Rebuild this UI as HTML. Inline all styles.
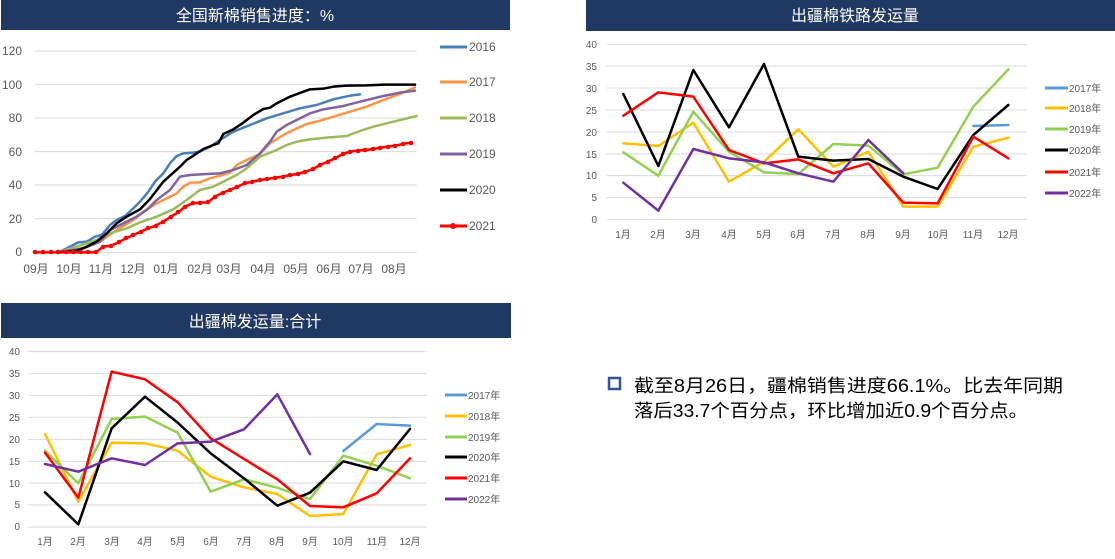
<!DOCTYPE html>
<html><head><meta charset="utf-8"><style>
body{margin:0;background:#fff;}
svg text{font-family:"Liberation Sans","Noto Sans CJK SC",sans-serif;}
.ax{font-size:11px;fill:#595959;}
.lg{font-size:12px;fill:#595959;}
.t{font-size:16px;fill:#fff;}
polyline{fill:none;stroke-linejoin:round;stroke-linecap:round;}
</style></head><body>
<svg width="1115" height="554" viewBox="0 0 1115 554" xmlns="http://www.w3.org/2000/svg">
<!-- Chart 1 -->
<rect x="1" y="0" width="509" height="30" fill="#1f3864"/>
<text class="t" x="255" y="21" text-anchor="middle">全国新棉销售进度：%</text>
<g transform="scale(0.33333)" stroke="#d9d9d9" stroke-width="1" vector-effect="non-scaling-stroke">
<line x1="105" x2="1250" y1="153" y2="153" vector-effect="non-scaling-stroke"/>
<line x1="105" x2="1250" y1="253" y2="253" vector-effect="non-scaling-stroke"/>
<line x1="105" x2="1250" y1="354" y2="354" vector-effect="non-scaling-stroke"/>
<line x1="105" x2="1250" y1="455" y2="455" vector-effect="non-scaling-stroke"/>
<line x1="105" x2="1250" y1="555" y2="555" vector-effect="non-scaling-stroke"/>
<line x1="105" x2="1250" y1="656" y2="656" vector-effect="non-scaling-stroke"/>
<line x1="105" x2="1250" y1="757" y2="757" vector-effect="non-scaling-stroke"/>
</g>
<g class="ax" font-size="12">
<text x="22" y="55" text-anchor="end" style="font-size:12px">120</text>
<text x="22" y="89" text-anchor="end" style="font-size:12px">100</text>
<text x="22" y="122" text-anchor="end" style="font-size:12px">80</text>
<text x="22" y="156" text-anchor="end" style="font-size:12px">60</text>
<text x="22" y="189" text-anchor="end" style="font-size:12px">40</text>
<text x="22" y="223" text-anchor="end" style="font-size:12px">20</text>
<text x="22" y="256" text-anchor="end" style="font-size:12px">0</text>
</g>
<g class="ax" text-anchor="middle" style="font-size:12px">
<text x="36" y="273" style="font-size:12px">09月</text><text x="69" y="273" style="font-size:12px">10月</text><text x="101" y="273" style="font-size:12px">11月</text><text x="133" y="273" style="font-size:12px">12月</text><text x="166" y="273" style="font-size:12px">01月</text><text x="200" y="273" style="font-size:12px">02月</text><text x="229" y="273" style="font-size:12px">03月</text><text x="263" y="273" style="font-size:12px">04月</text><text x="296" y="273" style="font-size:12px">05月</text><text x="329" y="273" style="font-size:12px">06月</text><text x="361" y="273" style="font-size:12px">07月</text><text x="394" y="273" style="font-size:12px">08月</text>
</g>
<g transform="scale(0.33333)">
<polyline vector-effect="non-scaling-stroke" stroke="#4a7ebb" stroke-width="2.5" points="175,757 200,745 235,727 260,725 285,710 305,705 330,675 350,660 375,648 400,625 420,605 445,575 465,545 490,520 510,490 530,468 550,460 580,458 600,455 630,440 660,420 700,395 750,375 800,355 850,340 900,325 950,315 1000,298 1050,287 1080,283"/>
<polyline vector-effect="non-scaling-stroke" stroke="#f79646" stroke-width="2.5" points="175,757 250,745 300,725 350,690 400,660 430,635 470,610 500,595 530,580 550,560 570,548 600,547 630,535 660,527 690,518 710,495 740,480 780,462 810,430 850,405 880,390 920,372 960,362 1000,350 1050,335 1100,320 1150,300 1200,282 1245,262"/>
<polyline vector-effect="non-scaling-stroke" stroke="#9bbb59" stroke-width="2.5" points="175,757 230,740 290,720 330,700 380,685 420,667 470,650 520,628 560,600 600,570 640,560 680,540 710,525 740,505 780,470 800,462 830,450 860,435 890,425 930,418 980,413 1040,408 1080,393 1120,380 1180,365 1250,348"/>
<polyline vector-effect="non-scaling-stroke" stroke="#8064a2" stroke-width="2.5" points="175,757 250,745 300,725 330,690 370,670 410,650 440,630 470,600 510,570 540,530 570,525 620,522 660,520 700,510 740,495 780,460 810,425 830,395 860,375 890,360 930,340 970,328 1030,318 1080,305 1150,288 1200,278 1245,272"/>
<polyline vector-effect="non-scaling-stroke" stroke="#000" stroke-width="2.5" points="175,757 230,752 260,740 290,725 320,700 350,670 380,650 420,628 450,597 490,545 520,518 540,500 560,480 580,467 610,447 640,435 655,430 670,402 700,388 730,368 760,345 790,327 810,323 830,310 870,290 910,275 930,268 970,266 1000,260 1040,257 1100,256 1150,254 1245,254"/>
<polyline id="r21" vector-effect="non-scaling-stroke" stroke="#ff0000" stroke-width="2.5" points="105,757 128,757 152,757 175,757 198,757 220,757 243,757 265,757 287,757 310,740 333,737 356,727 378,715 400,705 422,695 445,685 467,677 490,665 512,650 535,637 555,620 578,610 600,608 623,607 645,590 668,578 690,570 712,560 735,550 757,545 780,540 802,537 825,533 848,530 870,525 893,522 915,515 938,508 960,495 983,485 1005,475 1028,462 1050,455 1073,452 1095,450 1118,448 1140,443 1163,440 1185,437 1208,432 1232,428"/>
<polyline vector-effect="non-scaling-stroke" stroke="#ff0000" stroke-width="9" stroke-dasharray="0 23" points="105,757 128,757 152,757 175,757 198,757 220,757 243,757 265,757 287,757 310,740 333,737 356,727 378,715 400,705 422,695 445,685 467,677 490,665 512,650 535,637 555,620 578,610 600,608 623,607 645,590 668,578 690,570 712,560 735,550 757,545 780,540 802,537 825,533 848,530 870,525 893,522 915,515 938,508 960,495 983,485 1005,475 1028,462 1050,455 1073,452 1095,450 1118,448 1140,443 1163,440 1185,437 1208,432 1232,428" style="display:none"/>
</g>
<g fill="#ff0000">
<circle cx="35" cy="252" r="2.3"/><circle cx="43" cy="252" r="2.3"/><circle cx="51" cy="252" r="2.3"/><circle cx="58" cy="252" r="2.3"/><circle cx="66" cy="252" r="2.3"/><circle cx="73" cy="252" r="2.3"/><circle cx="81" cy="252" r="2.3"/><circle cx="88" cy="252" r="2.3"/><circle cx="96" cy="252" r="2.3"/><circle cx="103" cy="247" r="2.3"/><circle cx="111" cy="246" r="2.3"/><circle cx="119" cy="242" r="2.3"/><circle cx="126" cy="238" r="2.3"/><circle cx="133" cy="235" r="2.3"/><circle cx="141" cy="232" r="2.3"/><circle cx="148" cy="228" r="2.3"/><circle cx="156" cy="226" r="2.3"/><circle cx="163" cy="222" r="2.3"/><circle cx="171" cy="217" r="2.3"/><circle cx="178" cy="212" r="2.3"/><circle cx="185" cy="207" r="2.3"/><circle cx="193" cy="203" r="2.3"/><circle cx="200" cy="203" r="2.3"/><circle cx="208" cy="202" r="2.3"/><circle cx="215" cy="197" r="2.3"/><circle cx="223" cy="193" r="2.3"/><circle cx="230" cy="190" r="2.3"/><circle cx="237" cy="187" r="2.3"/><circle cx="245" cy="183" r="2.3"/><circle cx="252" cy="182" r="2.3"/><circle cx="260" cy="180" r="2.3"/><circle cx="267" cy="179" r="2.3"/><circle cx="275" cy="178" r="2.3"/><circle cx="283" cy="177" r="2.3"/><circle cx="290" cy="175" r="2.3"/><circle cx="298" cy="174" r="2.3"/><circle cx="305" cy="172" r="2.3"/><circle cx="313" cy="169" r="2.3"/><circle cx="320" cy="165" r="2.3"/><circle cx="328" cy="162" r="2.3"/><circle cx="335" cy="158" r="2.3"/><circle cx="343" cy="154" r="2.3"/><circle cx="350" cy="152" r="2.3"/><circle cx="358" cy="151" r="2.3"/><circle cx="365" cy="150" r="2.3"/><circle cx="373" cy="149" r="2.3"/><circle cx="380" cy="148" r="2.3"/><circle cx="388" cy="147" r="2.3"/><circle cx="395" cy="146" r="2.3"/><circle cx="403" cy="144" r="2.3"/><circle cx="411" cy="143" r="2.3"/>
</g>
<!-- legend 1 -->
<g stroke-width="3">
<line x1="440" x2="467" y1="47" y2="47" stroke="#4a7ebb"/>
<line x1="440" x2="467" y1="82" y2="82" stroke="#f79646"/>
<line x1="440" x2="467" y1="118" y2="118" stroke="#9bbb59"/>
<line x1="440" x2="467" y1="154" y2="154" stroke="#8064a2"/>
<line x1="440" x2="467" y1="190" y2="190" stroke="#000"/>
<line x1="440" x2="467" y1="226" y2="226" stroke="#ff0000"/>
</g>
<circle cx="453" cy="226" r="3" fill="#ff0000"/>
<g class="lg" style="font-size:12px">
<text x="469" y="51">2016</text><text x="469" y="86">2017</text><text x="469" y="122">2018</text><text x="469" y="158">2019</text><text x="469" y="194">2020</text><text x="469" y="230">2021</text>
</g>

<!-- Chart 2 -->
<rect x="586" y="0" width="529" height="31" fill="#1f3864"/>
<text class="t" x="855" y="21" text-anchor="middle">出疆棉铁路发运量</text>
<g transform="translate(585,0) scale(0.33333)">
<g stroke="#d9d9d9">
<line x1="65" x2="1325" y1="133" y2="133" vector-effect="non-scaling-stroke"/><line x1="65" x2="1325" y1="198" y2="198" vector-effect="non-scaling-stroke"/><line x1="65" x2="1325" y1="264" y2="264" vector-effect="non-scaling-stroke"/><line x1="65" x2="1325" y1="330" y2="330" vector-effect="non-scaling-stroke"/><line x1="65" x2="1325" y1="396" y2="396" vector-effect="non-scaling-stroke"/><line x1="65" x2="1325" y1="462" y2="462" vector-effect="non-scaling-stroke"/><line x1="65" x2="1325" y1="527" y2="527" vector-effect="non-scaling-stroke"/><line x1="65" x2="1325" y1="593" y2="593" vector-effect="non-scaling-stroke"/><line x1="65" x2="1325" y1="659" y2="659" vector-effect="non-scaling-stroke"/>
</g>
<polyline vector-effect="non-scaling-stroke" stroke="#5b9bd5" stroke-width="2.5" points="1165,378 1270,375"/>
<polyline vector-effect="non-scaling-stroke" stroke="#ffc000" stroke-width="2.5" points="115,430 220,438 325,368 432,545 537,485 640,388 745,500 850,455 955,620 1058,620 1165,440 1270,413"/>
<polyline vector-effect="non-scaling-stroke" stroke="#92d050" stroke-width="2.5" points="115,457 220,527 325,335 432,455 537,517 640,522 745,432 850,437 955,523 1058,503 1165,320 1270,208"/>
<polyline vector-effect="non-scaling-stroke" stroke="#000" stroke-width="2.5" points="115,282 220,498 325,210 432,382 537,192 640,470 745,482 850,477 955,530 1058,567 1165,405 1270,315"/>
<polyline vector-effect="non-scaling-stroke" stroke="#ff0000" stroke-width="2.5" points="115,347 220,277 325,290 432,450 537,490 640,478 745,520 850,490 955,608 1058,610 1165,410 1270,475"/>
<polyline vector-effect="non-scaling-stroke" stroke="#7030a0" stroke-width="2.5" points="115,548 220,632 325,447 432,475 537,487 640,520 745,545 850,420 955,520"/>
</g>
<g class="ax" text-anchor="end" style="font-size:10px">
<text x="597" y="48" style="font-size:10px">40</text><text x="597" y="70" style="font-size:10px">35</text><text x="597" y="92" style="font-size:10px">30</text><text x="597" y="114" style="font-size:10px">25</text><text x="597" y="136" style="font-size:10px">20</text><text x="597" y="158" style="font-size:10px">15</text><text x="597" y="179" style="font-size:10px">10</text><text x="597" y="201" style="font-size:10px">5</text><text x="597" y="223" style="font-size:10px">0</text>
</g>
<g class="ax" text-anchor="middle" style="font-size:10px">
<text x="623" y="238" style="font-size:10px">1月</text><text x="658" y="238" style="font-size:10px">2月</text><text x="693" y="238" style="font-size:10px">3月</text><text x="729" y="238" style="font-size:10px">4月</text><text x="764" y="238" style="font-size:10px">5月</text><text x="798" y="238" style="font-size:10px">6月</text><text x="833" y="238" style="font-size:10px">7月</text><text x="868" y="238" style="font-size:10px">8月</text><text x="903" y="238" style="font-size:10px">9月</text><text x="938" y="238" style="font-size:10px">10月</text><text x="973" y="238" style="font-size:10px">11月</text><text x="1008" y="238" style="font-size:10px">12月</text>
</g>
<g stroke-width="3">
<line x1="1045" x2="1068" y1="88" y2="88" stroke="#5b9bd5"/><line x1="1045" x2="1068" y1="108" y2="108" stroke="#ffc000"/><line x1="1045" x2="1068" y1="129" y2="129" stroke="#92d050"/><line x1="1045" x2="1068" y1="150" y2="150" stroke="#000"/><line x1="1045" x2="1068" y1="172" y2="172" stroke="#ff0000"/><line x1="1045" x2="1068" y1="193" y2="193" stroke="#7030a0"/>
</g>
<g class="lg" style="font-size:10px">
<text x="1069" y="92" style="font-size:10px">2017年</text><text x="1069" y="112" style="font-size:10px">2018年</text><text x="1069" y="133" style="font-size:10px">2019年</text><text x="1069" y="154" style="font-size:10px">2020年</text><text x="1069" y="176" style="font-size:10px">2021年</text><text x="1069" y="197" style="font-size:10px">2022年</text>
</g>

<!-- Chart 3 -->
<rect x="1" y="303" width="510" height="35" fill="#1f3864"/>
<text class="t" x="255" y="327" text-anchor="middle">出疆棉发运量:合计</text>
<g transform="translate(0,300) scale(0.33333)">
<g stroke="#d9d9d9">
<line x1="85" x2="1280" y1="155" y2="155" vector-effect="non-scaling-stroke"/><line x1="85" x2="1280" y1="221" y2="221" vector-effect="non-scaling-stroke"/><line x1="85" x2="1280" y1="287" y2="287" vector-effect="non-scaling-stroke"/><line x1="85" x2="1280" y1="352" y2="352" vector-effect="non-scaling-stroke"/><line x1="85" x2="1280" y1="418" y2="418" vector-effect="non-scaling-stroke"/><line x1="85" x2="1280" y1="484" y2="484" vector-effect="non-scaling-stroke"/><line x1="85" x2="1280" y1="549" y2="549" vector-effect="non-scaling-stroke"/><line x1="85" x2="1280" y1="615" y2="615" vector-effect="non-scaling-stroke"/><line x1="85" x2="1280" y1="681" y2="681" vector-effect="non-scaling-stroke"/>
</g>
<polyline vector-effect="non-scaling-stroke" stroke="#5b9bd5" stroke-width="2.5" points="1030,453 1130,372 1230,377"/>
<polyline vector-effect="non-scaling-stroke" stroke="#ffc000" stroke-width="2.5" points="135,402 235,605 335,428 435,430 533,452 632,530 732,562 832,582 930,648 1030,642 1130,463 1230,435"/>
<polyline vector-effect="non-scaling-stroke" stroke="#92d050" stroke-width="2.5" points="135,452 235,550 335,357 435,350 533,398 632,575 732,538 832,563 930,597 1030,467 1130,497 1230,535"/>
<polyline vector-effect="non-scaling-stroke" stroke="#000" stroke-width="2.5" points="135,577 235,673 335,385 435,290 533,368 632,460 732,535 832,617 930,578 1030,484 1130,510 1230,387"/>
<polyline vector-effect="non-scaling-stroke" stroke="#ff0000" stroke-width="2.5" points="135,458 235,593 335,215 435,238 533,307 632,415 732,477 832,538 930,618 1030,622 1130,580 1230,475"/>
<polyline vector-effect="non-scaling-stroke" stroke="#7030a0" stroke-width="2.5" points="135,492 235,515 335,475 435,495 533,430 632,425 732,388 832,283 930,462"/>
</g>
<g class="ax" text-anchor="end" style="font-size:10px">
<text x="20" y="355" style="font-size:10px">40</text><text x="20" y="377" style="font-size:10px">35</text><text x="20" y="399" style="font-size:10px">30</text><text x="20" y="421" style="font-size:10px">25</text><text x="20" y="443" style="font-size:10px">20</text><text x="20" y="465" style="font-size:10px">15</text><text x="20" y="487" style="font-size:10px">10</text><text x="20" y="508" style="font-size:10px">5</text><text x="20" y="530" style="font-size:10px">0</text>
</g>
<g class="ax" text-anchor="middle" style="font-size:10px">
<text x="45" y="545" style="font-size:10px">1月</text><text x="78" y="545" style="font-size:10px">2月</text><text x="112" y="545" style="font-size:10px">3月</text><text x="145" y="545" style="font-size:10px">4月</text><text x="178" y="545" style="font-size:10px">5月</text><text x="211" y="545" style="font-size:10px">6月</text><text x="244" y="545" style="font-size:10px">7月</text><text x="277" y="545" style="font-size:10px">8月</text><text x="310" y="545" style="font-size:10px">9月</text><text x="343" y="545" style="font-size:10px">10月</text><text x="377" y="545" style="font-size:10px">11月</text><text x="410" y="545" style="font-size:10px">12月</text>
</g>
<g stroke-width="3">
<line x1="445" x2="467" y1="395" y2="395" stroke="#5b9bd5"/><line x1="445" x2="467" y1="416" y2="416" stroke="#ffc000"/><line x1="445" x2="467" y1="437" y2="437" stroke="#92d050"/><line x1="445" x2="467" y1="457" y2="457" stroke="#000"/><line x1="445" x2="467" y1="478" y2="478" stroke="#ff0000"/><line x1="445" x2="467" y1="499" y2="499" stroke="#7030a0"/>
</g>
<g class="lg" style="font-size:10px">
<text x="468" y="399" style="font-size:10px">2017年</text><text x="468" y="420" style="font-size:10px">2018年</text><text x="468" y="441" style="font-size:10px">2019年</text><text x="468" y="461" style="font-size:10px">2020年</text><text x="468" y="482" style="font-size:10px">2021年</text><text x="468" y="503" style="font-size:10px">2022年</text>
</g>

<!-- Note text -->
<rect x="609" y="378" width="11" height="11" fill="none" stroke="#2f5597" stroke-width="2.5"/>
<text x="634" y="392" style="font-size:18px" fill="#000" textLength="429" lengthAdjust="spacingAndGlyphs">截至8月26日，疆棉销售进度66.1%。比去年同期</text>
<text x="634" y="417" style="font-size:18px" fill="#000" textLength="394" lengthAdjust="spacingAndGlyphs">落后33.7个百分点，环比增加近0.9个百分点。</text>
</svg>
</body></html>
